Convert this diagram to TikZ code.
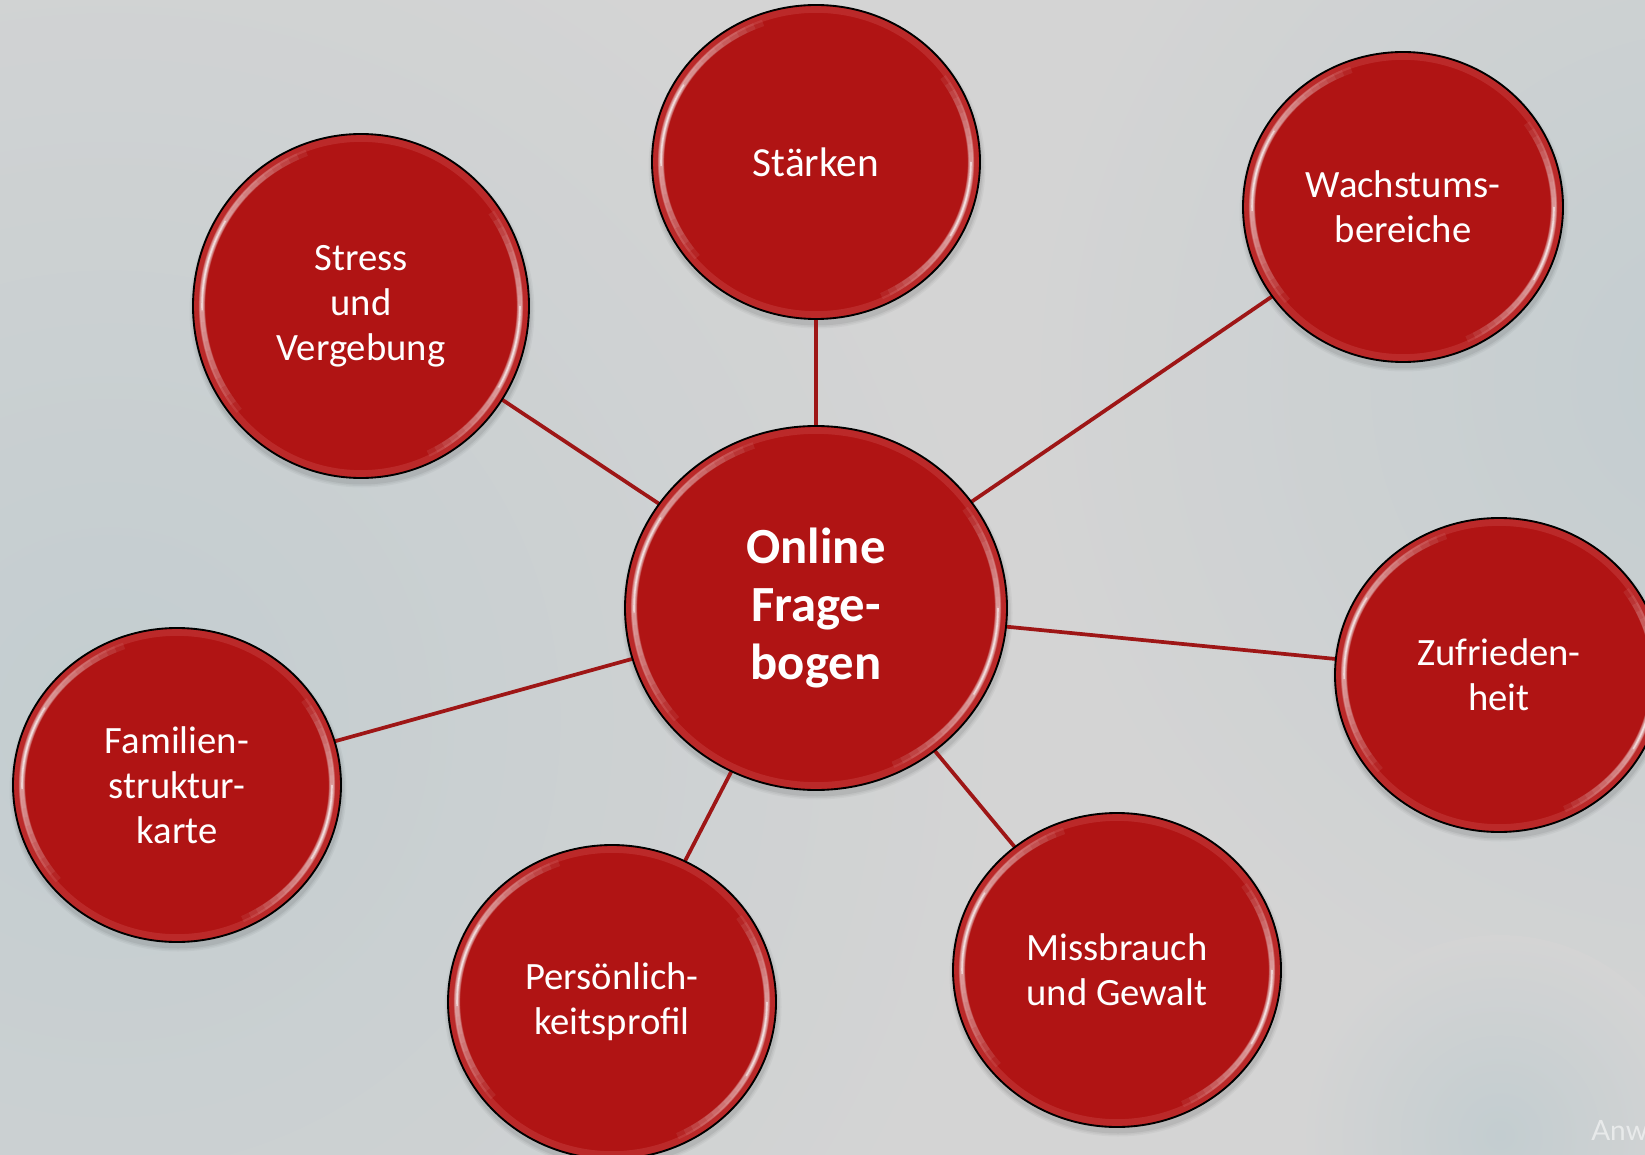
\documentclass[tikz,border=0pt]{standalone}
\usepackage{fontspec}
\setmainfont{Carlito}
\newfontfamily\wmfont{Lato}
\usetikzlibrary{shapes.geometric,calc}
\definecolor{bggray}{RGB}{212,212,212}
\definecolor{bgblue}{RGB}{195,205,208}
\definecolor{bubred}{RGB}{176,20,20}
\definecolor{rimred}{RGB}{214,92,92}
\definecolor{linkred}{RGB}{158,22,22}
\pgfdeclarelayer{bg}
\pgfdeclarelayer{links}
\pgfdeclarelayer{top}
\pgfsetlayers{bg,links,main,top}
% highlight arc: node, visual start angle, visual end angle, width, opacity
\newcommand\hlarc[5]{\draw[white,line width=#4,opacity=#5,line cap=butt]
  ([shift={({-(#2)}:{\hx} and {\hy})}]#1.center) arc[start angle={-(#2)}, end angle={-(#3)}, x radius=\hx, y radius=\hy];}
% a fading highlight: node, centre angle, half span
\newcommand\hlgroup[3]{%
  \foreach \k in {0,...,15}{%
    \pgfmathsetmacro\hsa{#2-#3*(1-\k/16)}%
    \pgfmathsetmacro\hsb{#2+#3*(1-\k/16)}%
    \pgfmathsetmacro\hw{5-0.25*\k}%
    \hlarc{#1}{\hsa}{\hsb}{\hw pt}{.075}}%
  \hlarc{#1}{#2-#3*0.3}{#2+#3*0.3}{1.2pt}{.55}}
\newcommand\gloss[3]{%
  \pgfmathsetmacro\hx{#2-9}\pgfmathsetmacro\hy{#3-9}
  \begin{scope}
    \clip (#1.center) ellipse[x radius=#2, y radius=#3];
    \draw[rimred,opacity=.3,line width=5pt] (#1.center) ellipse[x radius=#2-4.5,y radius=#3-4.5];
    \hlgroup{#1}{165}{55}
    \hlgroup{#1}{-15}{50}
  \end{scope}}
\newcommand\bshadow[3]{%
  \foreach \k/\o in {9/.035,6/.045,3/.06}{%
    \fill[black,opacity=\o] ($(#1.center)+(1,5)$) ellipse[x radius={#2+\k*0.5}, y radius={#3+\k*0.5}];}}
\tikzset{
  bubble/.style n args={3}{ellipse, draw=black, line width=1.4pt, fill=bubred,
    text=white, align=center, inner sep=0pt, outer sep=0pt,
    minimum width={#1*1.5pt}, minimum height={#2*1.5pt}, font=#3},
  link/.style={draw=linkred, line width=2.8pt},
}
\newcommand\regf{\fontsize{29pt}{33.75pt}\selectfont}
\newcommand\stf{\fontsize{31pt}{36pt}\selectfont}
\newcommand\cenf{\bfseries\fontsize{38pt}{43.5pt}\selectfont}
\begin{document}
\begin{tikzpicture}[x=0.75pt,y=-0.75pt]
\useasboundingbox (0,0) rectangle (1645,1155);
\begin{pgfonlayer}{bg}
  \fill[bggray] (0,0) rectangle (1645,1155);
  \shade[inner color=bgblue, outer color=bggray] (110,720) circle[radius=900];
  \shade[inner color=bgblue, outer color=bggray] (1720,380) circle[radius=700];
  \shade[inner color=bgblue, outer color=bggray] (1500,1135) circle[radius=200];
\end{pgfonlayer}

\node[bubble={191}{182}{\cenf}] (center) at (816,608) {Online\\Frage-\\bogen};
\node[bubble={164}{157}{\stf}] (staerken) at (816,162) {Stärken};
\node[bubble={160}{155}{\regf}] (wachstum) at (1403,207) {Wachstums-\\bereiche};
\node[bubble={168}{172}{\regf}] (stress) at (361,306) {Stress\\und\\Vergebung};
\node[bubble={164}{157}{\regf}] (familie) at (177,785) {Familien-\\struktur-\\karte};
\node[bubble={164}{157}{\regf}] (zufried) at (1499,675) {Zufrieden-\\heit};
\node[bubble={164}{157}{\regf}] (person) at (612,1002) {Persönlich-\\keitsprofil};
\node[bubble={164}{157}{\regf}] (missbr) at (1117,970) {Missbrauch\\und Gewalt};

\node[anchor=base west, text=white, opacity=.55, inner sep=0pt,
      font=\wmfont\fontsize{21pt}{24pt}\selectfont] (wm) at (1591,1140) {Anw};

\begin{pgfonlayer}{bg}
  \bshadow{center}{191}{182}
  \bshadow{staerken}{164}{157}
  \bshadow{wachstum}{160}{155}
  \bshadow{stress}{168}{172}
  \bshadow{familie}{164}{157}
  \bshadow{zufried}{164}{157}
  \bshadow{person}{164}{157}
  \bshadow{missbr}{164}{157}
\end{pgfonlayer}

\begin{pgfonlayer}{links}
  \draw[link] (center) -- (staerken);
  \draw[link] (center) -- (wachstum);
  \draw[link] (center) -- (stress);
  \draw[link] (center) -- (familie);
  \draw[link] (center) -- (zufried);
  \draw[link] (center) -- (person);
  \draw[link] (center) -- (missbr);
\end{pgfonlayer}

\begin{pgfonlayer}{top}
  \gloss{center}{191}{182}
  \gloss{staerken}{164}{157}
  \gloss{wachstum}{160}{155}
  \gloss{stress}{168}{172}
  \gloss{familie}{164}{157}
  \gloss{zufried}{164}{157}
  \gloss{person}{164}{157}
  \gloss{missbr}{164}{157}
\end{pgfonlayer}
\end{tikzpicture}
\end{document}
